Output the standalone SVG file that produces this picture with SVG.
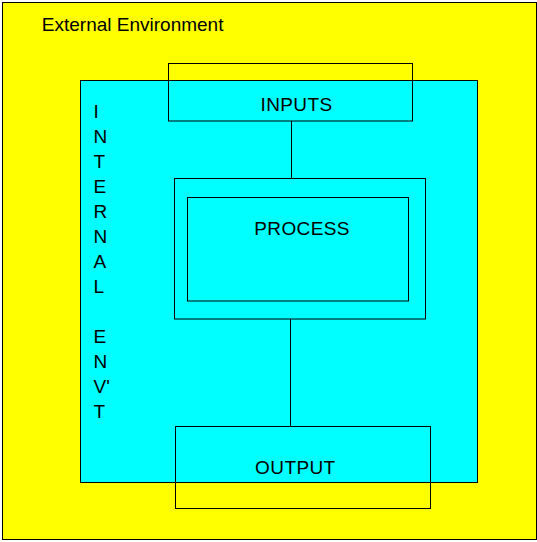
<svg xmlns="http://www.w3.org/2000/svg" width="537" height="542" viewBox="0 0 537 542">
<style>
  .box{fill:none;stroke:#000;stroke-width:1}
  .t{font-family:"Liberation Sans",Arial,sans-serif;font-size:19px;fill:#000}
  .s{letter-spacing:0.4px}
  .c{stroke:#000;stroke-width:1;fill:none}
</style>
<rect width="537" height="542" fill="#fff"/>
<g id="external">
  <rect x="2.5" y="2.5" width="534" height="537" fill="#ffff00" stroke="#000" stroke-width="1"/>
  <text class="t" x="41.8" y="31">External Environment</text>
</g>
<g id="internal">
  <rect x="80.5" y="80.5" width="397" height="402" fill="#00ffff" stroke="#000" stroke-width="1"/>
  <text class="t" x="93.5" y="117.5">I</text>
  <text class="t" x="93.5" y="142.5">N</text>
  <text class="t" x="93.5" y="167.5">T</text>
  <text class="t" x="93.5" y="192.5">E</text>
  <text class="t" x="93.5" y="217.5">R</text>
  <text class="t" x="93.5" y="242.5">N</text>
  <text class="t" x="93.5" y="267.5">A</text>
  <text class="t" x="93.5" y="292.5">L</text>
  <text class="t" x="93.5" y="342.5">E</text>
  <text class="t" x="93.5" y="367.5">N</text>
  <text class="t" x="93.5" y="392.5">V'</text>
  <text class="t" x="93.5" y="417.5">T</text>
</g>
<g id="connectors">
  <line class="c" x1="291.5" y1="121" x2="291.5" y2="178.5"/>
  <line class="c" x1="290.5" y1="319" x2="290.5" y2="426.5"/>
</g>
<g id="inputs">
  <rect class="box" x="168.5" y="63.5" width="244" height="57.5"/>
  <text class="t s" x="260.5" y="111">INPUTS</text>
</g>
<g id="process">
  <rect class="box" x="174.5" y="178.5" width="251" height="140.5"/>
  <rect class="box" x="187.5" y="197.5" width="221" height="103.5"/>
  <text class="t s" x="254.2" y="235">PROCESS</text>
</g>
<g id="output">
  <rect class="box" x="175.5" y="426.5" width="255" height="82"/>
  <text class="t s" x="255.1" y="474">OUTPUT</text>
</g>
</svg>
